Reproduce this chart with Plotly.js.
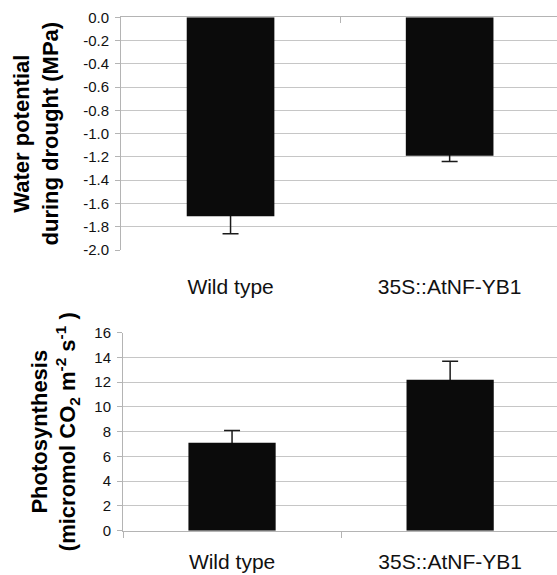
<!DOCTYPE html>
<html>
<head>
<meta charset="utf-8">
<script src="https://cdn.plot.ly/plotly-3.0.1.min.js"></script>
<style>
  html, body { margin: 0; padding: 0; background: #ffffff; }
  #chart { width: 557px; height: 575px; }
</style>
</head>
<body>
<div id="chart"></div>
<script>
// ---- data ----
const categories = ['Wild type', '35S::AtNF-YB1'];
const waterPotential = [-1.71, -1.19];
const waterPotentialErr = [0.15, 0.05];
const photosynthesis = [7.1, 12.2];
const photosynthesisErr = [1.0, 1.5];
const waterTicks = [0.0, -0.2, -0.4, -0.6, -0.8, -1.0, -1.2, -1.4, -1.6, -1.8, -2.0];
const waterTickLabels = ['0.0', '-0.2', '-0.4', '-0.6', '-0.8', '-1.0', '-1.2', '-1.4', '-1.6', '-1.8', '-2.0'];
const photoTicks = [0, 2, 4, 6, 8, 10, 12, 14, 16];
const photoTickLabels = ['0', '2', '4', '6', '8', '10', '12', '14', '16'];

// ---- style ----
const FONT = 'Liberation Sans, Arial, Helvetica, sans-serif';
const BAR = '#0b0b0b';
const GRID = '#c6c6c6';
const LINE = '#b4b4b4';
const TXT = '#111111';
const ERR = '#1a1a1a';
const W = 557, H = 575;

// Error bars live on the base subplots; the bars sit on overlay subplots drawn
// above them, so the inner half of each error bar is hidden behind its bar.
const traces = [
  {
    type: 'scatter', mode: 'markers', x: categories, y: waterPotential, xaxis: 'x', yaxis: 'y',
    marker: {opacity: 0, size: 1},
    error_y: {type: 'data', array: waterPotentialErr, color: ERR, thickness: 1.5, width: 8},
    hoverinfo: 'skip', showlegend: false
  },
  {
    type: 'bar', x: categories, y: waterPotential, xaxis: 'x3', yaxis: 'y',
    width: 0.4, marker: {color: BAR, line: {width: 0}},
    hoverinfo: 'skip', showlegend: false
  },
  {
    type: 'scatter', mode: 'markers', x: categories, y: photosynthesis, xaxis: 'x2', yaxis: 'y2',
    marker: {opacity: 0, size: 1},
    error_y: {type: 'data', array: photosynthesisErr, color: ERR, thickness: 1.5, width: 8},
    hoverinfo: 'skip', showlegend: false
  },
  {
    type: 'bar', x: categories, y: photosynthesis, xaxis: 'x4', yaxis: 'y2',
    width: 0.4, marker: {color: BAR, line: {width: 0}},
    hoverinfo: 'skip', showlegend: false
  }
];

const catFont = {family: FONT, size: 21, color: TXT};
const tickFont = {family: FONT, size: 15, color: TXT};
const titleFont = {family: FONT, size: 22, color: '#000000', weight: 'bold'};

const topDomainX = [121 / W, 1];
const botDomainX = [123 / W, 1];
const xRange = [-0.5, 1.49];

const layout = {
  width: W, height: H,
  margin: {l: 0, r: 0, t: 0, b: 0},
  paper_bgcolor: '#ffffff', plot_bgcolor: '#ffffff',
  font: {family: FONT, color: TXT},
  showlegend: false,
  // top chart: category labels below the plot
  xaxis: {
    domain: topDomainX, range: xRange, type: 'category', anchor: 'y',
    showline: false, ticks: '', showgrid: false, zeroline: false,
    tickfont: catFont, ticklabelstandoff: 22, fixedrange: true
  },
  // top chart: category axis crossing at 0 (top edge), ticks between categories
  xaxis3: {
    domain: topDomainX, range: xRange, type: 'category', anchor: 'y',
    overlaying: 'x', side: 'top',
    showline: true, linecolor: LINE, linewidth: 1,
    ticks: 'inside', tickson: 'boundaries', ticklen: 6, tickcolor: LINE, tickwidth: 1,
    showticklabels: false, showgrid: false, zeroline: false, fixedrange: true
  },
  yaxis: {
    domain: [1 - 250 / H, 1 - 17.3 / H], range: [-2.0, 0.0], anchor: 'x',
    tickmode: 'array', tickvals: waterTicks, ticktext: waterTickLabels,
    ticks: 'outside', ticklen: 5, tickcolor: LINE, tickwidth: 1,
    showline: true, linecolor: LINE, linewidth: 1,
    showgrid: true, gridcolor: GRID, gridwidth: 1, zeroline: false,
    tickfont: tickFont, ticklabelstandoff: 3,
    title: {text: 'Water potential<br>during drought (MPa)', font: titleFont, standoff: 18},
    fixedrange: true
  },
  // bottom chart
  xaxis2: {
    domain: botDomainX, range: xRange, type: 'category', anchor: 'y2',
    showline: true, linecolor: LINE, linewidth: 1,
    ticks: 'outside', tickson: 'boundaries', ticklen: 6, tickcolor: LINE, tickwidth: 1,
    showgrid: false, zeroline: false,
    tickfont: catFont, ticklabelstandoff: 12, fixedrange: true
  },
  xaxis4: {
    domain: botDomainX, range: xRange, type: 'category', anchor: 'y2',
    overlaying: 'x2', side: 'bottom',
    showline: false, ticks: '', showticklabels: false, showgrid: false, zeroline: false,
    fixedrange: true
  },
  yaxis2: {
    domain: [1 - 530.7 / H, 1 - 332.7 / H], range: [0, 16], anchor: 'x2',
    tickmode: 'array', tickvals: photoTicks, ticktext: photoTickLabels,
    ticks: 'outside', ticklen: 5, tickcolor: LINE, tickwidth: 1,
    showline: true, linecolor: LINE, linewidth: 1,
    showgrid: true, gridcolor: GRID, gridwidth: 1, zeroline: false,
    tickfont: tickFont, ticklabelstandoff: 3,
    title: {text: 'Photosynthesis<br>(micromol CO<sub>2</sub> m<sup>-2</sup> s<sup>-1</sup> )', font: titleFont, standoff: 12},
    fixedrange: true
  }
};

Plotly.newPlot('chart', traces, layout, {displayModeBar: false, staticPlot: true});
</script>
</body>
</html>
